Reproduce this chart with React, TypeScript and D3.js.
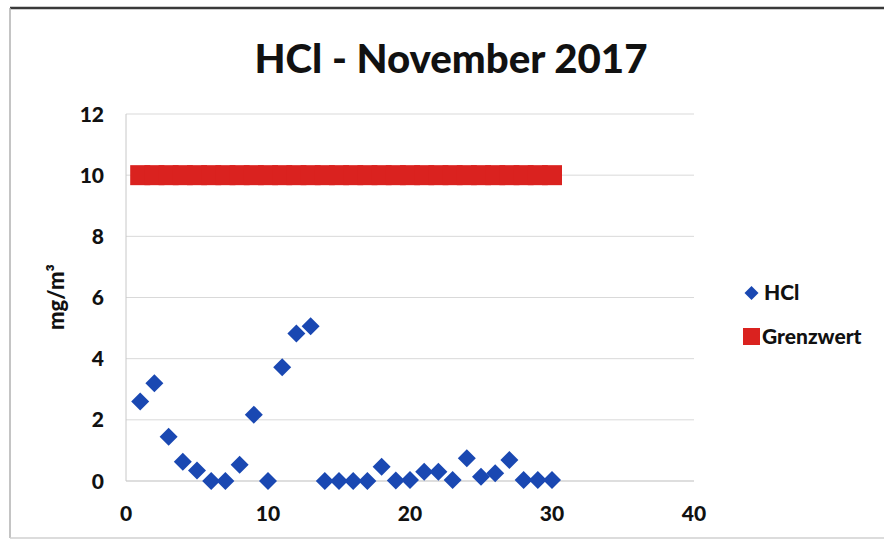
import React from "react";
import * as d3 from "d3";

const days = [1,2,3,4,5,6,7,8,9,10,11,12,13,14,15,16,17,18,19,20,21,22,23,24,25,26,27,28,29,30];
const hclValues = [2.6,3.2,1.45,0.63,0.34,0.0,0.0,0.53,2.17,0.0,3.72,4.82,5.06,0.0,0.0,0.0,0.0,0.47,0.02,0.03,0.3,0.3,0.03,0.74,0.14,0.25,0.69,0.03,0.03,0.03];
const limitValues = days.map(() => 10);
const xTicks = [0, 10, 20, 30, 40];
const yTicks = [0, 2, 4, 6, 8, 10, 12];
const title = "HCl -  November 2017";
const yTitle = "mg/m³";
const legendLabels = ["HCl", "Grenzwert"];

const W = 884, H = 540;
const BLUE = "#1A48B2";
const RED = "#DA221F";
const FONT = "Lato, 'Open Sans', sans-serif";

export default function App() {
  const x = d3.scaleLinear().domain([0, 40]).range([126, 694]);
  const y = d3.scaleLinear().domain([0, 12]).range([481, 114]);
  const dHalf = 9;
  const diamond = (cx: number, cy: number, r: number) =>
    `M${cx},${cy - r}L${cx + r},${cy}L${cx},${cy + r}L${cx - r},${cy}Z`;

  return (
    <svg width={W} height={H} style={{ position: "absolute", left: 0, top: 0, background: "#fff" }}>
      <rect x={0} y={0} width={W} height={H} fill="#fff" />
      {/* frame */}
      <line x1={10} x2={W} y1={8} y2={8} stroke="#3a3a3a" strokeWidth={2.5} />
      <line x1={10} x2={10} y1={8} y2={538} stroke="#b0b0b0" strokeWidth={1.5} />
      <line x1={10} x2={W} y1={538} y2={538} stroke="#d0d0d0" strokeWidth={1.5} />

      {/* title */}
      <text x={451} y={73} textAnchor="middle" fontFamily={FONT} fontWeight={900} fontSize={39}
        fill="#111" textLength={393} lengthAdjust="spacingAndGlyphs">{title}</text>

      {/* gridlines */}
      {yTicks.map((t) => (
        <line key={"g" + t} x1={x(0)} x2={x(40)} y1={y(t)} y2={y(t)}
          stroke={t === 0 ? "#bdbdbd" : "#d9d9d9"} strokeWidth={1} />
      ))}
      <line x1={x(0)} x2={x(0)} y1={y(12)} y2={y(0)} stroke="#c8c8c8" strokeWidth={1} />

      {/* y tick labels */}
      {yTicks.map((t) => (
        <text key={"yl" + t} x={104} y={y(t) + 7.5} textAnchor="end" fontFamily={FONT}
          fontWeight={900} fontSize={21} fill="#111">{t}</text>
      ))}
      {/* x tick labels */}
      {xTicks.map((t) => (
        <text key={"xl" + t} x={x(t)} y={521} textAnchor="middle" fontFamily={FONT}
          fontWeight={900} fontSize={21} fill="#111">{t}</text>
      ))}

      {/* y title */}
      <text transform={`translate(64,297) rotate(-90)`} textAnchor="middle" fontFamily={FONT}
        fontWeight={900} fontSize={22} fill="#111">{yTitle}</text>

      {/* limit series: square markers */}
      {days.map((d, i) => (
        <rect key={"r" + d} x={x(d) - 10} y={y(limitValues[i]) - 10} width={20} height={20} fill={RED} />
      ))}

      {/* HCl series */}
      {days.map((d, i) => (
        <path key={"h" + d} d={diamond(x(d), y(hclValues[i]), dHalf)} fill={BLUE} />
      ))}

      {/* legend */}
      <path d={diamond(751.5, 293, 7)} fill={BLUE} />
      <text x={764} y={300} fontFamily={FONT} fontWeight={900} fontSize={21} fill="#111">{legendLabels[0]}</text>
      <rect x={743} y={328} width={17} height={17} fill={RED} />
      <text x={762} y={344} fontFamily={FONT} fontWeight={900} fontSize={21} fill="#111">{legendLabels[1]}</text>
    </svg>
  );
}
